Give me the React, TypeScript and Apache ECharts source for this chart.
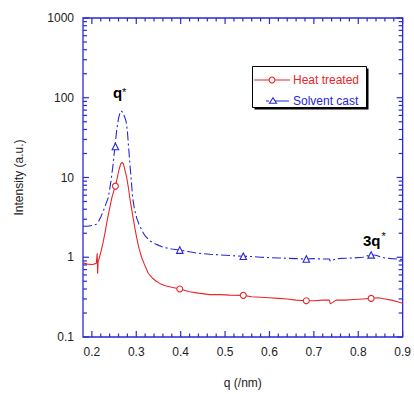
import React, { useEffect, useRef } from "react";
import * as echarts from "echarts";

const RED = "#e8262a";
const BLUE = "#2626dc";
const AXIS_BLUE = "#2a2ad2";
const FONT = 'Arial, "Liberation Sans", sans-serif';

// Heat treated (red, solid)
const qHeat = [0.18, 0.19, 0.2, 0.205, 0.21, 0.212, 0.213, 0.214, 0.216, 0.22, 0.225, 0.23, 0.235, 0.24, 0.245, 0.25, 0.253, 0.257, 0.261, 0.265, 0.268, 0.271, 0.275, 0.278, 0.282, 0.286, 0.29, 0.293, 0.297, 0.301, 0.306, 0.312, 0.318, 0.327, 0.336, 0.345, 0.353, 0.365, 0.38, 0.398, 0.42, 0.44, 0.466, 0.49, 0.51, 0.541, 0.56, 0.58, 0.6, 0.62, 0.64, 0.66, 0.683, 0.7, 0.72, 0.735, 0.737, 0.75, 0.77, 0.79, 0.81, 0.829, 0.845, 0.86, 0.875, 0.89, 0.9];
const heatValues = [0.85, 0.82, 0.81, 0.82, 0.84, 1.12, 0.62, 0.88, 0.95, 1.15, 1.5, 2.1, 3.0, 4.1, 5.6, 7.0, 7.8, 9.8, 12.5, 14.8, 15.5, 14.8, 12.0, 10.3, 7.6, 5.3, 3.9, 3.1, 2.3, 1.75, 1.3, 1.0, 0.82, 0.63, 0.55, 0.5, 0.47, 0.44, 0.42, 0.4, 0.37, 0.355, 0.34, 0.34, 0.335, 0.333, 0.32, 0.315, 0.31, 0.305, 0.3, 0.29, 0.285, 0.285, 0.29, 0.29, 0.26, 0.29, 0.29, 0.295, 0.3, 0.305, 0.31, 0.3, 0.29, 0.275, 0.265];

// Solvent cast (blue, dash-dot)
const qSolvent = [0.18, 0.19, 0.2, 0.21, 0.215, 0.22, 0.225, 0.23, 0.237, 0.243, 0.248, 0.252, 0.256, 0.26, 0.263, 0.266, 0.27, 0.274, 0.277, 0.28, 0.282, 0.286, 0.29, 0.292, 0.296, 0.301, 0.306, 0.312, 0.32, 0.331, 0.345, 0.361, 0.38, 0.398, 0.42, 0.44, 0.466, 0.49, 0.51, 0.541, 0.56, 0.58, 0.6, 0.62, 0.64, 0.66, 0.683, 0.7, 0.72, 0.735, 0.737, 0.75, 0.77, 0.79, 0.81, 0.82, 0.829, 0.84, 0.85, 0.86, 0.875, 0.89, 0.9];
const solventValues = [2.45, 2.45, 2.5, 2.6, 2.8, 3.2, 3.7, 4.4, 5.6, 9, 15, 24.5, 40, 55, 64, 68.6, 65, 57, 51, 38, 27, 14, 7.5, 5.5, 4.0, 3.1, 2.6, 2.2, 1.85, 1.6, 1.45, 1.33, 1.27, 1.23, 1.17, 1.12, 1.09, 1.07, 1.05, 1.03, 1.02, 1.0, 0.99, 0.98, 0.97, 0.96, 0.95, 0.96, 0.95, 0.95, 0.89, 0.96, 0.97, 0.98, 1.0, 1.04, 1.07, 1.06, 1.01, 0.98, 0.96, 0.95, 0.93];

// Marker positions
const markerQ = [0.253, 0.398, 0.541, 0.683, 0.829];
const heatMarkers = [7.8, 0.4, 0.333, 0.285, 0.305];
const solventMarkers = [24.5, 1.23, 1.03, 0.95, 1.07];

// Axis ticks
const xMajorTicks = [0.2, 0.3, 0.4, 0.5, 0.6, 0.7, 0.8, 0.9];
const xMinorStep = 0.02;
const yMajorTicks = [0.1, 1, 10, 100, 1000];
const yMinorMultipliers = [2, 3, 4, 5, 6, 7, 8, 9];

export default function App() {
  const ref = useRef<HTMLDivElement>(null);

  useEffect(() => {
    if (!ref.current) return;
    const chart = echarts.init(ref.current, undefined, { renderer: "svg" });

    const xTickData: number[][] = [];
    xMajorTicks.forEach((v) => xTickData.push([v, 1, 6]));
    for (let i = 1; i < 35; i++) {
      const v = +(0.2 + xMinorStep * i).toFixed(3);
      if (i % 5 !== 0) xTickData.push([v, 1, 3.5]);
    }
    const yTickData: number[][] = [];
    yMajorTicks.forEach((v) => yTickData.push([0.5, v, 6]));
    yMajorTicks.slice(0, -1).forEach((d) =>
      yMinorMultipliers.forEach((m) => yTickData.push([0.5, +(d * m).toPrecision(3), 4]))
    );

    const option: any = {
      animation: false,
      grid: {
        left: 83,
        right: 11,
        top: 18,
        bottom: 54,
        show: true,
        borderColor: AXIS_BLUE,
        borderWidth: 1.3,
        backgroundColor: "transparent",
      },
      xAxis: {
        type: "value",
        min: 0.18,
        max: 0.9,
        splitNumber: 7,
        axisLine: { show: false },
        axisTick: { show: false },
        splitLine: { show: false },
        axisLabel: {
          fontSize: 12,
          fontFamily: FONT,
          color: "#222",
          margin: 9,
          formatter: (v: number) => (Math.abs(v - 0.18) < 1e-6 ? "" : v.toFixed(1)),
        },
        name: "q (/nm)",
        nameLocation: "middle",
        nameGap: 40,
        nameTextStyle: { fontSize: 12, fontFamily: FONT, color: "#222" },
      },
      yAxis: {
        type: "log",
        logBase: 10,
        min: 0.1,
        max: 1000,
        axisLine: { show: false },
        axisTick: { show: false },
        splitLine: { show: false },
        minorTick: { show: false },
        axisLabel: {
          fontSize: 12,
          fontFamily: FONT,
          color: "#222",
          margin: 9,
          formatter: (v: number) => String(Math.pow(10, Math.round(Math.log10(v)))),
        },
        name: "Intensity (a.u.)",
        nameLocation: "middle",
        nameGap: 58,
        nameTextStyle: { fontSize: 12, fontFamily: FONT, color: "#222" },
      },
      series: [
        {
          type: "line",
          name: "Heat treated",
          data: qHeat.map((q, i) => [q, heatValues[i]]),
          symbol: "none",
          lineStyle: { color: RED, width: 1.1 },
          z: 3,
        },
        {
          type: "line",
          name: "Solvent cast",
          data: qSolvent.map((q, i) => [q, solventValues[i]]),
          symbol: "none",
          lineStyle: { color: BLUE, width: 1.1, type: [9, 3, 2, 3] },
          z: 2,
        },
        {
          type: "scatter",
          data: markerQ.map((q, i) => [q, heatMarkers[i]]),
          symbol: "circle",
          symbolSize: 6,
          itemStyle: { color: "#fff", borderColor: RED, borderWidth: 1.1, opacity: 1 },
          z: 4,
        },
        {
          type: "scatter",
          data: markerQ.map((q, i) => [q, solventMarkers[i]]),
          symbol: "triangle",
          symbolSize: 6.5,
          itemStyle: { color: "#fff", borderColor: BLUE, borderWidth: 1.1, opacity: 1 },
          z: 4,
        },
        {
          type: "custom",
          silent: true,
          z: 5,
          data: xTickData,
          renderItem: (params: any, api: any) => {
            const p = api.coord([api.value(0), 1]);
            const len = api.value(2);
            const cs = params.coordSys;
            const bottom = cs.y + cs.height;
            const top = cs.y;
            const style = { stroke: AXIS_BLUE, lineWidth: 1.2 };
            return {
              type: "group",
              children: [
                { type: "line", shape: { x1: p[0], y1: bottom, x2: p[0], y2: bottom - len }, style },
                { type: "line", shape: { x1: p[0], y1: top, x2: p[0], y2: top + len }, style },
              ],
            };
          },
        },
        {
          type: "custom",
          silent: true,
          z: 5,
          data: yTickData,
          renderItem: (params: any, api: any) => {
            const p = api.coord([0.5, api.value(1)]);
            const len = api.value(2);
            const cs = params.coordSys;
            const left = cs.x;
            const right = cs.x + cs.width;
            const style = { stroke: AXIS_BLUE, lineWidth: 1.2 };
            return {
              type: "group",
              children: [
                { type: "line", shape: { x1: left, y1: p[1], x2: left + len, y2: p[1] }, style },
                { type: "line", shape: { x1: right, y1: p[1], x2: right - len, y2: p[1] }, style },
              ],
            };
          },
        },
      ],
      graphic: [
        // legend shadow + box
        { type: "rect", shape: { x: 254.5, y: 68.5, width: 114, height: 41 }, style: { fill: "#000" }, z: 10 },
        { type: "rect", shape: { x: 252.5, y: 66.5, width: 114, height: 41 }, style: { fill: "#fff", stroke: "#000", lineWidth: 1 }, z: 11 },
        { type: "line", shape: { x1: 254, y1: 80, x2: 290, y2: 80 }, style: { stroke: RED, lineWidth: 1.1 }, z: 12 },
        { type: "circle", shape: { cx: 272, cy: 80, r: 3 }, style: { fill: "#fff", stroke: RED, lineWidth: 1.1 }, z: 13 },
        { type: "text", x: 293, y: 80, style: { text: "Heat treated", fill: RED, fontSize: 12, fontFamily: FONT, verticalAlign: "middle" }, z: 12 },
        { type: "line", shape: { x1: 266, y1: 101, x2: 289, y2: 101 }, style: { stroke: BLUE, lineWidth: 1.1, lineDash: [3, 3, 20, 2] }, z: 12 },
        { type: "polygon", shape: { points: [[273, 97.8], [276.5, 103.3], [269.5, 103.3]] }, style: { fill: "#fff", stroke: BLUE, lineWidth: 1.1 }, z: 13 },
        { type: "text", x: 293, y: 101, style: { text: "Solvent cast", fill: BLUE, fontSize: 12, fontFamily: FONT, verticalAlign: "middle" }, z: 12 },
        // peak annotations
        { type: "text", x: 113, y: 100, style: { text: "q", fill: "#000", fontSize: 15, fontWeight: "bold", fontFamily: FONT, verticalAlign: "bottom" }, z: 12 },
        { type: "text", x: 122, y: 86, style: { text: "*", fill: "#000", fontSize: 11, fontFamily: FONT, verticalAlign: "top" }, z: 12 },
        { type: "text", x: 363, y: 248, style: { text: "3q", fill: "#000", fontSize: 15, fontWeight: "bold", fontFamily: FONT, verticalAlign: "bottom" }, z: 12 },
        { type: "text", x: 381.5, y: 230, style: { text: "*", fill: "#000", fontSize: 11, fontFamily: FONT, verticalAlign: "top" }, z: 12 },
      ],
    };

    chart.setOption(option);
    return () => chart.dispose();
  }, []);

  return (
    <div
      ref={ref}
      style={{ position: "fixed", left: 0, top: 0, width: 414, height: 394, background: "#fff" }}
    />
  );
}
